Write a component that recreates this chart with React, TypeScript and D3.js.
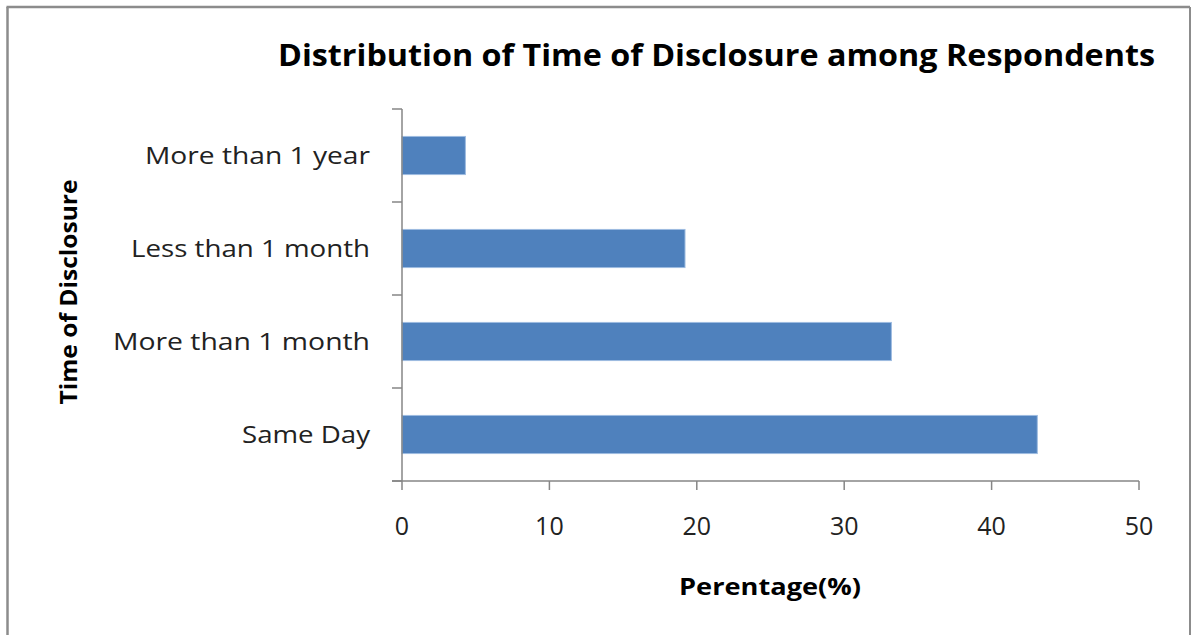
import React from "react";
import * as d3 from "d3";

const categories = ["More than 1 year", "Less than 1 month", "More than 1 month", "Same Day"];
const values = [4.3, 19.2, 33.2, 43.1];
const xTicks = [0, 10, 20, 30, 40, 50];
const title = "Distribution of Time of Disclosure among Respondents";
const xTitle = "Perentage(%)";
const yTitle = "Time of Disclosure";

const W = 1191;
const H = 635;
const left = 402;
const right = 1139;
const top = 109;
const bottom = 481;
const FONT = "'Open Sans', 'DejaVu Sans', sans-serif";
const AXIS = "#868686";

export default function App() {
  const x = d3.scaleLinear().domain([0, 50]).range([left, right]);
  const y = d3
    .scaleBand<string>()
    .domain(categories)
    .range([top, bottom])
    .paddingInner(0.59)
    .paddingOuter(0.295);
  const step = y.step();
  const catWidths: Record<string, number> = {
    "More than 1 year": 225,
    "Less than 1 month": 239,
    "More than 1 month": 257,
    "Same Day": 128,
  };

  return (
    <div style={{ position: "absolute", left: 0, top: 0 }}>
      <svg width={W} height={H} style={{ display: "block", background: "#fff" }}>
        {/* outer frame */}
        <line x1={7.5} y1={7} x2={7.5} y2={H} stroke="#8c8c8c" strokeWidth={2.5} />
        <line x1={6.5} y1={7} x2={1190} y2={7} stroke="#8c8c8c" strokeWidth={2.5} />
        <line x1={1190} y1={7} x2={1190} y2={H} stroke="#8c8c8c" strokeWidth={2} />

        <text
          x={278}
          y={66}
          fontFamily={FONT}
          fontWeight="bold"
          fontSize={31}
          fill="#000"
          textLength={877}
          lengthAdjust="spacingAndGlyphs"
        >
          {title}
        </text>

        {/* bars */}
        {categories.map((c, i) => (
          <rect
            key={c}
            x={x(0)}
            y={y(c)}
            width={x(values[i]) - x(0)}
            height={y.bandwidth()}
            fill="#4F81BD"
            stroke="#9DBBE0"
            strokeWidth={1}
          />
        ))}

        {/* y axis */}
        <line x1={left} y1={top} x2={left} y2={bottom} stroke={AXIS} strokeWidth={1.5} />
        {d3.range(categories.length + 1).map((i) => (
          <line
            key={"yt" + i}
            x1={left - 10}
            x2={left}
            y1={top + i * step}
            y2={top + i * step}
            stroke={AXIS}
            strokeWidth={1.5}
          />
        ))}
        {categories.map((c) => (
          <text
            key={"yl" + c}
            x={370}
            y={(y(c) as number) + y.bandwidth() / 2 + 8}
            textAnchor="end"
            fontFamily={FONT}
            fontSize={24}
            fill="#222"
            textLength={catWidths[c]}
            lengthAdjust="spacingAndGlyphs"
          >
            {c}
          </text>
        ))}

        {/* x axis */}
        <line x1={left - 10} y1={bottom} x2={right} y2={bottom} stroke={AXIS} strokeWidth={1.5} />
        {xTicks.map((t) => (
          <g key={"xt" + t}>
            <line x1={x(t)} x2={x(t)} y1={bottom} y2={bottom + 9} stroke={AXIS} strokeWidth={1.5} />
            <text
              x={x(t)}
              y={535}
              textAnchor="middle"
              fontFamily={FONT}
              fontSize={25}
              fill="#222"
            >
              {t}
            </text>
          </g>
        ))}

        <text
          x={770}
          y={595}
          textAnchor="middle"
          fontFamily={FONT}
          fontWeight="bold"
          fontSize={24}
          fill="#000"
          textLength={182}
          lengthAdjust="spacingAndGlyphs"
        >
          {xTitle}
        </text>

        <text
          transform={`translate(77, 292) rotate(-90)`}
          textAnchor="middle"
          fontFamily={FONT}
          fontWeight="bold"
          fontSize={24}
          fill="#000"
          textLength={225}
          lengthAdjust="spacingAndGlyphs"
        >
          {yTitle}
        </text>
      </svg>
    </div>
  );
}
